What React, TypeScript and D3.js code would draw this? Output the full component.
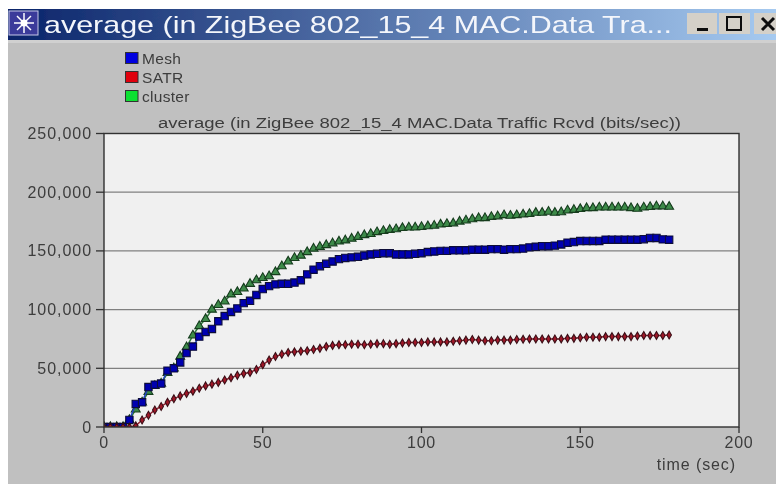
import * as d3 from "d3";

const windowTitle = "average (in ZigBee 802_15_4 MAC.Data Tra...";
const chartTitle = "average (in ZigBee 802_15_4 MAC.Data Traffic Rcvd (bits/sec))";
const xLabel = "time (sec)";
const xTicks = [0, 50, 100, 150, 200];
const yTicks = [0, 50000, 100000, 150000, 200000, 250000];

// one sample every 2 seconds, 0 to 178
const times = d3.range(0, 180, 2);

const mesh = [
  0, 0, 0, 0, 6000, 19600, 21000, 34000, 36000, 37000,
  48000, 50000, 55000, 63000, 68500, 77000, 81000, 83500, 90000, 94500,
  98000, 101000, 105500, 107500, 112500, 117500, 120000, 121500, 122000, 122000,
  123000, 125000, 130000, 134000, 137000, 139000, 141000, 143000, 144000, 144500,
  145000, 146000, 147000, 147500, 148000, 148000, 147000, 147000, 147000, 147500,
  148000, 149000, 149500, 150000, 150000, 150500, 150500, 150500, 151000, 151000,
  151000, 151500, 151500, 151000, 151500, 151500, 152000, 153000, 153500, 154000,
  154000, 154500, 155500, 157000, 157500, 158400, 158500, 158500, 158500, 159500,
  159500, 159500, 159500, 159500, 159500, 160000, 161000, 161000, 159800, 159500,
];

const satr = [
  0, 0, 0, 0, 0, 1000, 6000, 10000, 14500, 17500,
  21000, 24000, 26500, 28500, 30500, 33000, 35000, 36500, 38000, 40000,
  42000, 44000, 45500, 46500, 49000, 53000, 57000, 60000, 62000, 63500,
  64000, 64500, 65000, 66000, 67000, 68500, 69500, 70000, 70000, 70500,
  70500, 70000, 70500, 71000, 71000, 70500, 71000, 71500, 72000, 72000,
  72000, 72500, 72500, 72500, 72500, 73000, 73500, 74000, 74500, 74000,
  73500, 73500, 74000, 74000, 74000, 74500, 74700, 75000, 75000, 75000,
  75000, 75000, 75000, 75500, 75500, 76000, 76500, 76500, 76500, 77000,
  77000, 77000, 77000, 77000, 77500, 78000, 78000, 78000, 78000, 78400,
];

const cluster = [
  0, 0, 0, 0, 6000, 15000, 21000, 30000, 35000, 37000,
  46000, 50000, 60000, 68000, 78000, 86000, 92000, 100000, 104000, 107000,
  113000, 115000, 118000, 122000, 125000, 127000, 128500, 132000, 137000, 141000,
  144000, 146000, 149000, 152000, 153500, 155000, 156500, 158000, 159000, 160500,
  162000, 163500, 164500, 166000, 167000, 168000, 168500, 169500, 170000, 170000,
  170400, 171000, 171500, 172500, 173000, 173500, 175000, 176000, 177000, 178000,
  178000, 179000, 179500, 180500, 180000, 180500, 181000, 181500, 182500, 182500,
  183400, 182500, 183000, 184500, 185000, 185700, 186500, 186500, 187000, 187000,
  187000, 187000, 187000, 186500, 186000, 187000, 187500, 188000, 188000, 187600,
];

const legendItems = [
  { name: "Mesh", color: "#0000e0" },
  { name: "SATR", color: "#e00010" },
  { name: "cluster", color: "#10e030" },
];

const plot = { left: 104, right: 739, top: 133.5, bottom: 427 };
const font = "'Liberation Sans', Arial, sans-serif";
const ink = "#3c3c3c";

const x = d3.scaleLinear().domain([0, 200]).range([plot.left, plot.right]);
const y = d3.scaleLinear().domain([0, 250000]).range([plot.bottom, plot.top]);
const fmt = d3.format(",");

function seriesPath(values: number[]) {
  return (
    d3
      .line<number>()
      .x((_, i) => x(times[i]))
      .y((v) => y(v))(values) ?? ""
  );
}

const seriesStyles = [
  { values: cluster, line: "#2e7a3a", fill: "#3c8a48", stroke: "#163c1e", type: d3.symbolTriangle, size: 34 },
  { values: mesh, line: "#2040c0", fill: "#0000b0", stroke: "#0c0c38", type: d3.symbolSquare, size: 54 },
  { values: satr, line: "#902030", fill: "#a01428", stroke: "#3a1018", type: d3.symbolDiamond, size: 18 },
];

function Series({ values, line, fill, stroke, type, size }: (typeof seriesStyles)[number]) {
  const marker = d3.symbol().type(type).size(size)() ?? "";
  return (
    <g>
      <path d={seriesPath(values)} fill="none" stroke={line} strokeWidth={1.5} />
      {values.map((v, i) => (
        <path
          key={i}
          d={marker}
          transform={`translate(${x(times[i])},${y(v)})`}
          fill={fill}
          stroke={stroke}
          strokeWidth={1.1}
        />
      ))}
    </g>
  );
}

export default function App() {
  return (
    <svg
      width={776}
      height={484}
      style={{ position: "absolute", left: 0, top: 0, background: "#fff" }}
      fontFamily={font}
    >
      <defs>
        <linearGradient id="title-bar" x1="0" x2="1" y1="0" y2="0">
          <stop offset="0%" stopColor="#0a246a" />
          <stop offset="100%" stopColor="#a6caf0" />
        </linearGradient>
        <clipPath id="plot-clip">
          <rect x={plot.left} y={plot.top} width={plot.right - plot.left} height={plot.bottom - plot.top} />
        </clipPath>
        <filter id="soft" x="0" y="0" width="100%" height="100%">
          <feGaussianBlur stdDeviation="0.6" />
        </filter>
      </defs>

      <g filter="url(#soft)">
        <rect x={8} y={9} width={768} height={475} fill="#c0c0c0" />

        {/* window title bar */}
        <rect x={8} y={9} width={768} height={31} fill="url(#title-bar)" />
        <rect x={8} y={40} width={768} height={3} fill="#d0d0d0" />
        <rect x={9} y={11} width={29} height={24} fill="#3a3a9a" stroke="#c8c8e8" />
        <g stroke="#fff" strokeWidth={1.5}>
          <line x1={14} y1={23} x2={34} y2={23} />
          <line x1={24} y1={13} x2={24} y2={33} />
          <line x1={17} y1={16} x2={31} y2={30} />
          <line x1={31} y1={16} x2={17} y2={30} />
        </g>
        <circle cx={24} cy={23} r={3.5} fill="#fff" />
        <text x={44} y={33} fontSize={24} fill="#f4f6fb" textLength={628} lengthAdjust="spacingAndGlyphs">
          {windowTitle}
        </text>
        <g fill="#d4d0c8">
          <rect x={687} y={13} width={30} height={21} />
          <rect x={719} y={13} width={31} height={21} />
          <rect x={754} y={13} width={22} height={21} />
        </g>
        <rect x={697} y={28} width={11} height={3} fill="#111" />
        <rect x={727} y={17} width={14} height={13} fill="none" stroke="#111" strokeWidth={2} />
        <path d="M762 18L774 30M774 18L762 30" stroke="#111" strokeWidth={3} />

        {/* legend */}
        {legendItems.map((item, i) => (
          <g key={item.name} transform={`translate(0,${i * 19})`}>
            <rect x={125.5} y={52.5} width={12.5} height={11} fill={item.color} stroke="#303030" />
            <text x={142} y={63.5} fontSize={15.5} fill={ink} letterSpacing={0.3}>
              {item.name}
            </text>
          </g>
        ))}

        <text x={158} y={128} fontSize={14} fill={ink} textLength={523} lengthAdjust="spacingAndGlyphs">
          {chartTitle}
        </text>

        {/* plot area */}
        <rect
          x={plot.left}
          y={plot.top}
          width={plot.right - plot.left}
          height={plot.bottom - plot.top}
          fill="#f0f0f0"
        />
        {yTicks.slice(1, -1).map((t) => (
          <line key={t} x1={plot.left} x2={plot.right} y1={y(t)} y2={y(t)} stroke="#808080" strokeWidth={1.3} />
        ))}
        <g clipPath="url(#plot-clip)">
          {seriesStyles.map((s, i) => (
            <Series key={i} {...s} />
          ))}
        </g>
        <rect
          x={plot.left}
          y={plot.top}
          width={plot.right - plot.left}
          height={plot.bottom - plot.top}
          fill="none"
          stroke="#303030"
          strokeWidth={1.4}
        />

        {/* axes */}
        {yTicks.map((t) => (
          <g key={t}>
            <line x1={plot.left - 8} x2={plot.left} y1={y(t)} y2={y(t)} stroke="#303030" strokeWidth={1.3} />
            <text x={plot.left - 12} y={y(t) + 5.5} textAnchor="end" fontSize={16} fill={ink} letterSpacing={0.95}>
              {fmt(t)}
            </text>
          </g>
        ))}
        {xTicks.map((t) => (
          <g key={t}>
            <line x1={x(t)} x2={x(t)} y1={plot.bottom} y2={plot.bottom + 6} stroke="#303030" strokeWidth={1.3} />
            <text x={x(t)} y={448} textAnchor="middle" fontSize={16} fill={ink} letterSpacing={0.8}>
              {t}
            </text>
          </g>
        ))}
        <text x={736} y={470} textAnchor="end" fontSize={16} fill={ink} letterSpacing={0.9}>
          {xLabel}
        </text>
      </g>
    </svg>
  );
}
